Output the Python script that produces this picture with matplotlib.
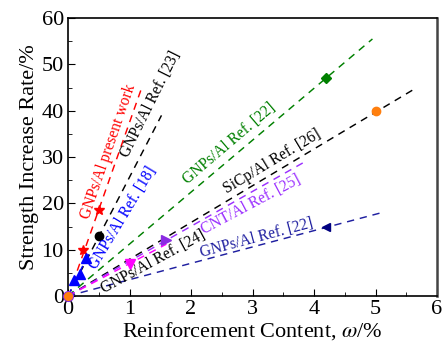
import matplotlib
matplotlib.use("Agg")
import matplotlib.pyplot as plt
import numpy as np

plt.rcParams['font.family'] = ['Liberation Serif', 'DejaVu Serif']
plt.rcParams['mathtext.fontset'] = 'stix'

# ---- data ----
labels = ["GNPs/Al present work", "GNPs/Al Ref. [23]", "GNPs/Al Ref. [18]",
          "GNPs/Al Ref. [22]", "SiCp/Al Ref. [26]", "CNT/Al Ref. [25]",
          "GNPs/Al Ref. [24]", "GNPs/Al Ref. [22]"]
pts_x = [[0.25, 0.5], [0.5], [0.1, 0.2, 0.3], [4.2], [5.0], [1.6], [1.0], [4.2]]
pts_y = [[10, 18.5], [13], [3.5, 4.7, 8.3], [47], [40], [12], [7], [15]]
fit_x0 = [0.08, 0.0, 0.0, 0.0, 0.0, 0.0, 0.0, 0.0]
fit_y0 = [2.8, 0.0, 0.0, 0.0, 0.0, 0.0, 0.0, 0.0]
fit_x1 = [1.21, 1.52, 0.35, 4.95, 5.62, 3.88, 1.6, 5.1]
fit_y1 = [45.4, 39.0, 9.5, 55.5, 44.6, 29.2, 11.2, 18.0]
origin_x = [0.0]
origin_y = [0.0]
label_x = [0.65, 1.35, 0.90, 2.63, 3.32, 2.97, 1.38, 3.07]
label_y = [31.1, 41.3, 16.8, 33.0, 29.0, 19.6, 7.3, 12.6]
xticks = [0, 1, 2, 3, 4, 5, 6]
yticks = [0, 10, 20, 30, 40, 50, 60]

# ---- style ----
marker_c = ['red', 'black', 'blue', 'green', '#ff7f0e', '#8a2be2', 'magenta', 'navy']
line_c = ['red', 'black', 'blue', 'green', 'black', '#9b30ff', 'magenta', '#1f1fa0']
text_c = ['red', 'black', 'blue', 'green', 'black', '#9b30ff', 'black', '#1f1fa0']
markers = ['*', 'o', '^', 'D', 'o', '>', 'v', '<']
msizes = [7, 6, 7, 5.5, 6, 7, 7, 6]
angles = [71, 63.5, 59, 40.5, 31, 28, 28.5, 15]

fig = plt.figure(figsize=(4.43, 3.42), dpi=100)
ax = fig.add_axes([0.1535, 0.1345, 0.833, 0.8125])

for i in range(len(labels)):
    ax.plot([fit_x0[i], fit_x1[i]], [fit_y0[i], fit_y1[i]], linestyle=(0, (5, 4)),
            color=line_c[i], lw=1.05, zorder=2)
    ax.plot(pts_x[i], pts_y[i], linestyle='none', marker=markers[i], color=marker_c[i],
            markersize=msizes[i], zorder=3, clip_on=False)
    ax.text(label_x[i], label_y[i], labels[i], rotation=angles[i], color=text_c[i],
            fontsize=11.2, ha='center', va='center', rotation_mode='anchor')

ax.plot(origin_x, origin_y, 'o', color='#8a2be2', markersize=7, clip_on=False, zorder=4)
ax.plot(origin_x, origin_y, 'o', color='#ff7f0e', markersize=5.5, clip_on=False, zorder=5)

ax.set_xlim(0, 6)
ax.set_ylim(0, 60)
ax.set_xticks(xticks)
ax.set_yticks(yticks)
ax.set_xticks(np.arange(0.5, 6, 1.0), minor=True)
ax.set_yticks(np.arange(5, 60, 10), minor=True)
ax.tick_params(which='both', direction='in', top=False, right=False, labelsize=16, pad=3)
ax.tick_params(which='major', length=5)
ax.tick_params(which='minor', length=3)
ax.set_xlabel(r"Reinforcement Content, $\omega$/%", fontsize=16, labelpad=1)
ax.set_ylabel("Strength Increase Rate/%", fontsize=16, labelpad=2)
for s in ax.spines.values():
    s.set_linewidth(1.2)
ax.spines['right'].set_linewidth(1.8)
ax.spines['right'].set_color('#444444')

fig.savefig("out.png", dpi=100)
